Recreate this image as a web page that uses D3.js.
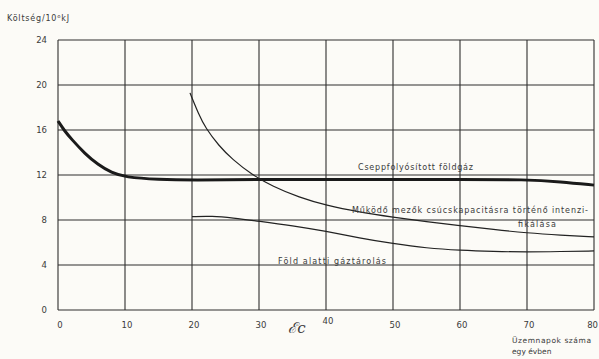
<!DOCTYPE html>
<html>
<head>
<meta charset="utf-8">
<script src="https://cdn.jsdelivr.net/npm/d3@7"></script>
<style>
  body { margin: 0; background: #fcfbf7; }
  text { font-family: "DejaVu Sans", sans-serif; fill: #3a3a3a; }
</style>
</head>
<body>
<div id="chart"></div>
<script>
// ---- data ----
var xTicks = [0, 10, 20, 30, 40, 50, 60, 70, 80];
var yTicks = [0, 4, 8, 12, 16, 20, 24];

var lngX = [0, 1, 2, 4, 6, 8, 10, 15, 20, 30, 40, 50, 60, 70, 75, 80];
var lngY = [16.8, 15.9, 15.2, 13.9, 12.9, 12.2, 11.8, 11.6, 11.55, 11.6, 11.6, 11.6, 11.6, 11.6, 11.4, 11.1];

var fieldX = [19.7, 21, 22, 24, 26, 29, 32, 36, 40, 45, 50, 55, 60, 65, 70, 75, 80];
var fieldY = [19.3, 17.4, 16.2, 14.6, 13.4, 12.0, 11.0, 10.0, 9.3, 8.7, 8.25, 7.85, 7.5, 7.15, 6.85, 6.65, 6.5];

var storX = [20, 23, 26, 30, 35, 40, 45, 50, 55, 60, 65, 70, 75, 80];
var storY = [8.3, 8.35, 8.2, 7.9, 7.5, 7.0, 6.4, 5.9, 5.5, 5.3, 5.2, 5.15, 5.2, 5.25];

var width = 599, height = 359;

var svg = d3.select("#chart")
  .append("svg")
  .attr("width", width)
  .attr("height", height);

var x = d3.scaleLinear().domain([0, 80]).range([58, 594]);
var y = d3.scaleLinear().domain([0, 24]).range([310, 40]);

var ink = "#2e2e2e";

// grid
svg.append("g").selectAll("line")
  .data(yTicks)
  .enter().append("line")
  .attr("x1", x(0)).attr("x2", x(80))
  .attr("y1", function(d) { return y(d); })
  .attr("y2", function(d) { return y(d); })
  .attr("stroke", ink).attr("stroke-width", 1.1);

svg.append("g").selectAll("line")
  .data(xTicks)
  .enter().append("line")
  .attr("y1", y(0)).attr("y2", y(24))
  .attr("x1", function(d) { return x(d); })
  .attr("x2", function(d) { return x(d); })
  .attr("stroke", ink).attr("stroke-width", 1.1);

// tick labels
svg.append("g").selectAll("text")
  .data(yTicks)
  .enter().append("text")
  .attr("x", 47)
  .attr("y", function(d) { return y(d) + 3; })
  .attr("text-anchor", "end")
  .style("font-size", "8.5px")
  .text(function(d) { return d; });

svg.append("g").selectAll("text")
  .data(xTicks)
  .enter().append("text")
  .attr("x", function(d) { return d == 80 ? 598 : x(d) + 2; })
  .attr("y", function(d) { return d == 40 ? 324 : 328; })
  .attr("text-anchor", function(d) { return d == 80 ? "end" : "middle"; })
  .style("font-size", "8.5px")
  .text(function(d) { return d; });

// axis titles
svg.append("text")
  .attr("x", 7).attr("y", 21)
  .attr("textLength", 62).attr("lengthAdjust", "spacing")
  .style("font-size", "8px")
  .text("Költség/10⁶kJ");

svg.append("text")
  .attr("x", 512).attr("y", 343)
  .attr("textLength", 79).attr("lengthAdjust", "spacing")
  .style("font-size", "7.5px")
  .text("Üzemnapok száma");
svg.append("text")
  .attr("x", 512).attr("y", 354)
  .style("font-size", "7.5px")
  .text("egy évben");

// hand-written mark
svg.append("text")
  .attr("x", 297).attr("y", 333)
  .attr("text-anchor", "middle")
  .style("font-family", "DejaVu Serif, serif")
  .style("font-style", "italic")
  .style("font-size", "15px")
  .text("ℰc");

// curves
var line = d3.line()
  .x(function(d) { return x(d[0]); })
  .y(function(d) { return y(d[1]); })
  .curve(d3.curveBasis);

function pairs(xs, ys) { return xs.map(function(v, i) { return [v, ys[i]]; }); }

svg.append("path")
  .datum(pairs(lngX, lngY))
  .attr("d", line)
  .attr("fill", "none").attr("stroke", "#1a1a1a").attr("stroke-width", 3);

svg.append("path")
  .datum(pairs(fieldX, fieldY))
  .attr("d", line)
  .attr("fill", "none").attr("stroke", "#222").attr("stroke-width", 1.2);

svg.append("path")
  .datum(pairs(storX, storY))
  .attr("d", line)
  .attr("fill", "none").attr("stroke", "#222").attr("stroke-width", 1.2);

// curve labels
function label(tx, ty, len, str) {
  svg.append("text")
    .attr("x", tx).attr("y", ty)
    .attr("textLength", len).attr("lengthAdjust", "spacing")
    .style("font-size", "8px")
    .text(str);
}
label(358, 170, 115, "Cseppfolyósított földgáz");
label(352, 213, 236, "Működő mezők csúcskapacitásra történő intenzi-");
label(518, 227, 38, "fikálása");
label(278, 264, 108, "Föld alatti gáztárolás");
</script>
</body>
</html>
